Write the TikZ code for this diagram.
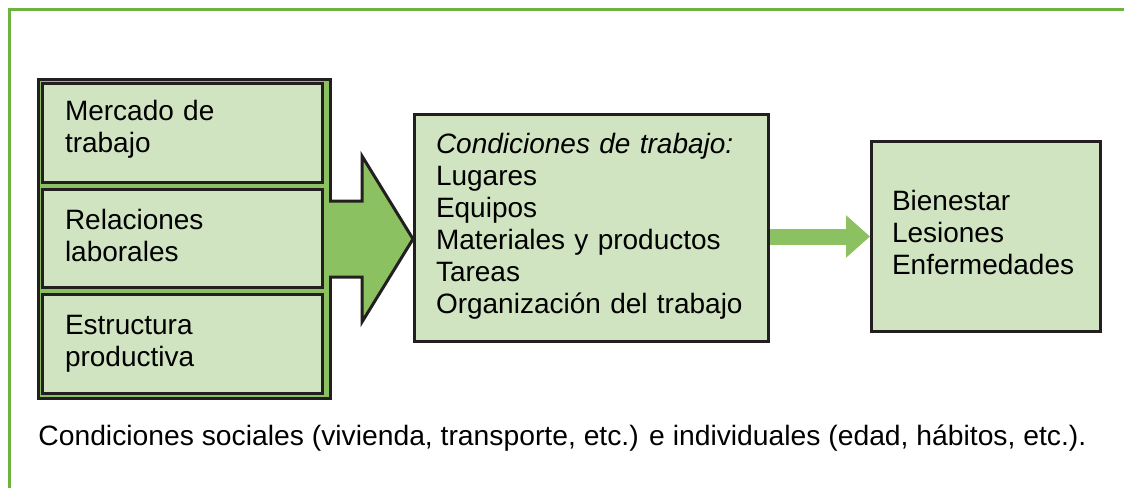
\documentclass[tikz,border=0pt]{standalone}
\usepackage{fontspec}
\setmainfont{Liberation Sans}
\usepackage{xcolor}
\usetikzlibrary{positioning,arrows.meta,calc}

\definecolor{boxfill}{HTML}{D1E4C1}
\definecolor{arrowgreen}{HTML}{8BC160}
\definecolor{framegreen}{HTML}{6DB33F}
\definecolor{outline}{HTML}{231F20}

\begin{document}
\begin{tikzpicture}[
        x=0.5pt, y=-0.5pt,
        font=\fontsize{14}{16}\selectfont,
        lift/.style={execute at end node={\endgraf\vspace{#1}}},
        factor/.style={rectangle, draw=outline, fill=boxfill, line width=1.5pt, minimum width=140pt, minimum height=49.3pt, text width=117.5pt, align=left, inner sep=0pt},
        group/.style={rectangle, draw=outline, fill=arrowgreen, line width=1.5pt, minimum width=146pt, minimum height=159.5pt, inner sep=0pt},
        result/.style={rectangle, draw=outline, fill=boxfill, line width=1.5pt, align=left, inner sep=0pt},
        bigarrow/.style={fill=arrowgreen, draw=outline, line width=1.5pt, line join=miter},
        smallarrow/.style={draw=arrowgreen, line width=8pt, -{Triangle[length=12pt, width=20.5pt]}},
        frame/.style={draw=framegreen, line width=1.5pt}
    ]
    \useasboundingbox (0,0) rectangle (1124,488);

    % Frame (top and left only)
    \draw [frame] (9.5,488) |- (1124,9.5);

    % Left group of factors
    \node [group] (grp) at (184.5,239) {};
    \node [factor, lift=4pt] (mercado) at (182.5,132.8) {Mercado de\\trabajo};
    \node [factor, below=2pt of mercado, lift=2.5pt] (relaciones) {Relaciones\\laborales};
    \node [factor, below=2pt of relaciones] (estructura) {Estructura\\productiva};

    % Working conditions and effects
    \node [result, minimum width=177pt, minimum height=113.5pt, text width=155.5pt, lift=2pt] (cond) at (591.5,228)
        {\textit{Condiciones de trabajo:}\\Lugares\\Equipos\\Materiales y productos\\Tareas\\Organización del trabajo};
    \node [result, minimum width=114.5pt, minimum height=95pt, text width=94pt, lift=4pt] (efectos) at (986,236.5)
        {Bienestar\\Lesiones\\Enfermedades};

    % Big arrow from the group
    \coordinate (tip) at (cond.west |- grp.east);
    \filldraw [bigarrow] ($(grp.east)+(-3,-38)$) -- ++(33,0) -- ++(0,-45) -- (tip)
        -- ($(grp.east)+(30,83)$) -- ++(0,-45) -- ++(-33,0);

    % Small arrow to the effects
    \draw [smallarrow] (cond.east |- efectos.west) -- (efectos.west);

    % Caption line
    \node [anchor=west, inner sep=0pt, xscale=1.01] (social) at (38,438)
        {Condiciones sociales (vivienda, transporte, etc.) e individuales (edad, hábitos, etc.).};
\end{tikzpicture}
\end{document}
